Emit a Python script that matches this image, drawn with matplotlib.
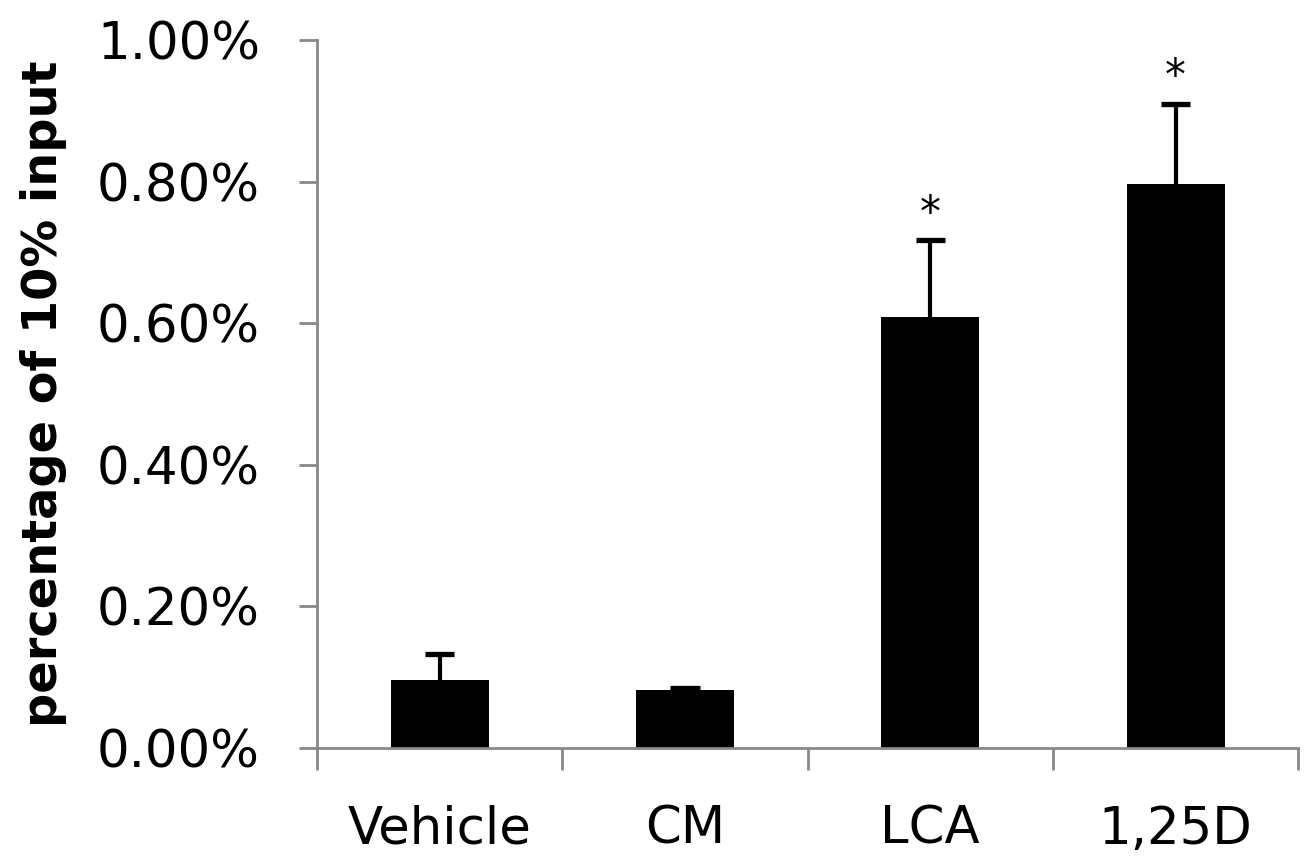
import matplotlib
matplotlib.use("Agg")
import matplotlib.pyplot as plt
import numpy as np

categories = ["Vehicle", "CM", "LCA", "1,25D"]
values = [0.096, 0.082, 0.609, 0.797]
errors = [0.037, 0.003, 0.108, 0.113]
stars = ["", "", "*", "*"]
yticks = [0.0, 0.2, 0.4, 0.6, 0.8, 1.0]

fig = plt.figure(figsize=(13.1, 8.63), dpi=100)
ax = fig.add_axes([0.242, 0.1333, 0.749, 0.8204])

x = np.arange(len(categories))
vals = np.array(values)
errs = np.array(errors)
ax.bar(x, vals, width=0.4, color="black", zorder=2)
# upper error bars only
ax.vlines(x, vals, vals + errs, color="black", linewidth=3, zorder=3)
ax.hlines(vals + errs, x - 0.06, x + 0.06, color="black", linewidth=3.8, zorder=3)

for xi, v, e, s in zip(x, vals, errs, stars):
    if s:
        ax.text(xi, v + e + 0.008, s, ha="center", va="bottom", fontsize=30)

ax.set_xlim(-0.5, 3.5)
ax.set_ylim(0, 1.0)
ax.set_yticks(yticks)
ax.set_yticklabels(["%.2f%%" % t for t in yticks])

ax.set_xticks(x)
ax.set_xticklabels(categories)
ax.set_xticks(np.arange(-0.5, 4.0, 1.0), minor=True)
ax.tick_params(axis="x", which="major", length=0, pad=41, labelsize=37)
ax.tick_params(axis="x", which="minor", length=16, width=2, color="#888888")
ax.tick_params(axis="y", length=13, width=2, color="#888888", pad=28, labelsize=37)

for side in ["top", "right"]:
    ax.spines[side].set_visible(False)
for side in ["left", "bottom"]:
    ax.spines[side].set_color("#888888")
    ax.spines[side].set_linewidth(2)

ax.set_ylabel("percentage of 10% input", fontsize=34.5, fontweight="bold")
ax.yaxis.set_label_coords(-0.255, 0.5)

fig.savefig("out.png", dpi=100)
